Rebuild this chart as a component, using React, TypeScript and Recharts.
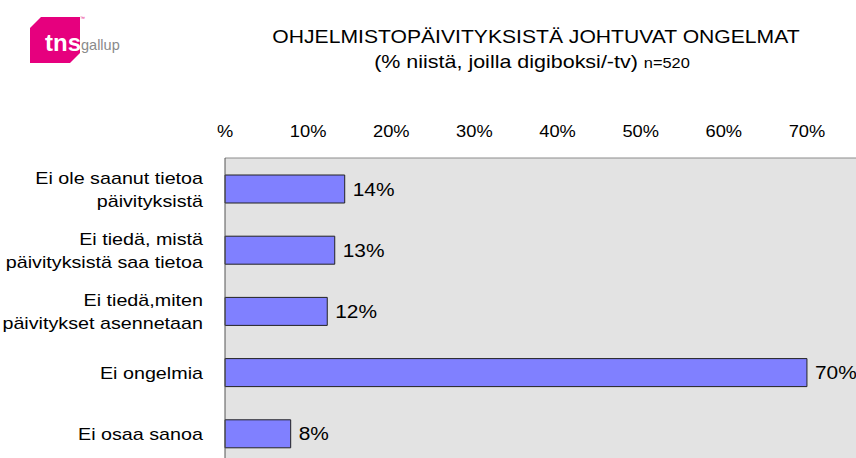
import { Bar, BarChart, CartesianGrid, LabelList, XAxis, YAxis } from "recharts";

const CATEGORIES = [
  "Ei ole saanut tietoa\npäivityksistä",
  "Ei tiedä, mistä\npäivityksistä saa tietoa",
  "Ei tiedä,miten\npäivitykset asennetaan",
  "Ei ongelmia",
  "Ei osaa sanoa"
];
const VALUES = [14.4, 13.2, 12.3, 70, 7.9];
const X_TICKS = [0, 10, 20, 30, 40, 50, 60, 70];

const FONT = "'Liberation Sans', Arial, sans-serif";
// the original picture is a bit stretched sideways, so the text is too
const STRETCH = 1.13;

const rows = CATEGORIES.map((name, i) => ({ name, value: VALUES[i] }));

function CategoryTick({ x, y, payload }: any) {
  const lines = String(payload.value).split("\n");
  const lineHeight = 23;
  const startY = -((lines.length - 1) * lineHeight) / 2;
  return (
    <g transform={`translate(${x - 14},${y}) scale(1.16,1)`}>
      <text textAnchor="end" dominantBaseline="central" fontFamily={FONT} fontSize={17} fill="#000">
        {lines.map((line, i) => (
          <tspan key={i} x={0} y={startY + i * lineHeight}>
            {line}
          </tspan>
        ))}
      </text>
    </g>
  );
}

function PercentTick({ x, y, payload }: any) {
  const v = payload.value;
  return (
    <g transform={`translate(${x},${y + 2}) scale(${STRETCH},1)`}>
      <text textAnchor="middle" fontFamily={FONT} fontSize={16.2} fill="#000">
        {v === 0 ? "%" : `${v}%`}
      </text>
    </g>
  );
}

function ValueLabel({ x, y, width, height, value }: any) {
  return (
    <g transform={`translate(${x + width + 8},${y + height / 2}) scale(${STRETCH},1)`}>
      <text dominantBaseline="central" fontFamily={FONT} fontSize={18.5} fill="#000">
        {`${Math.round(value)}%`}
      </text>
    </g>
  );
}

function Logo() {
  return (
    <svg width={140} height={80} style={{ position: "absolute", left: 0, top: 0 }}>
      <path d="M41 17 L80 17 L80 53 L70 63 L30 63 L30 28 Z" fill="#e6007e" />
      <text x={45} y={51} fontFamily={FONT} fontWeight="bold" fontSize={24} fill="#fff">
        tns
      </text>
      <text x={81} y={50} fontFamily={FONT} fontSize={14.5} fill="#8a8a8a">
        gallup
      </text>
      <text x={80} y={20} fontFamily={FONT} fontSize={5} fill="#e6007e">
        ™
      </text>
    </svg>
  );
}

export default function App() {
  return (
    <div
      style={{
        position: "absolute",
        left: 0,
        top: 0,
        width: 856,
        height: 458,
        overflow: "hidden",
        background: "#fff",
        fontFamily: FONT
      }}
    >
      <Logo />
      <div
        style={{
          position: "absolute",
          left: 236,
          width: 600,
          top: 26,
          textAlign: "center",
          fontSize: 18.7,
          color: "#000",
          whiteSpace: "nowrap",
          transform: `scaleX(${STRETCH})`
        }}
      >
        OHJELMISTOPÄIVITYKSISTÄ JOHTUVAT ONGELMAT
      </div>
      <div
        style={{
          position: "absolute",
          left: 232,
          width: 600,
          top: 51,
          textAlign: "center",
          fontSize: 19,
          color: "#000",
          whiteSpace: "nowrap",
          transform: `scaleX(${STRETCH})`
        }}
      >
        (% niistä, joilla digiboksi/-tv) <span style={{ fontSize: 14.5 }}>n=520</span>
      </div>
      <BarChart
        width={856}
        height={464}
        data={rows}
        layout="vertical"
        margin={{ top: 0, right: 0, bottom: 0, left: 0 }}
        style={{ position: "absolute", left: 0, top: 0 }}
      >
        <CartesianGrid horizontal={false} vertical={false} fill="#e3e3e3" />
        <XAxis
          type="number"
          orientation="top"
          domain={[0, 75.9]}
          ticks={X_TICKS}
          height={158}
          tickSize={0}
          tickMargin={23}
          axisLine={{ stroke: "#8c8c8c" }}
          tickLine={false}
          tick={<PercentTick />}
          interval={0}
        />
        <YAxis
          type="category"
          dataKey="name"
          width={225}
          axisLine={{ stroke: "#555" }}
          tickLine={false}
          tick={<CategoryTick />}
          interval={0}
        />
        <Bar dataKey="value" barSize={28} fill="#8080ff" stroke="#222" strokeWidth={1} isAnimationActive={false}>
          <LabelList dataKey="value" content={<ValueLabel />} />
        </Bar>
      </BarChart>
    </div>
  );
}
